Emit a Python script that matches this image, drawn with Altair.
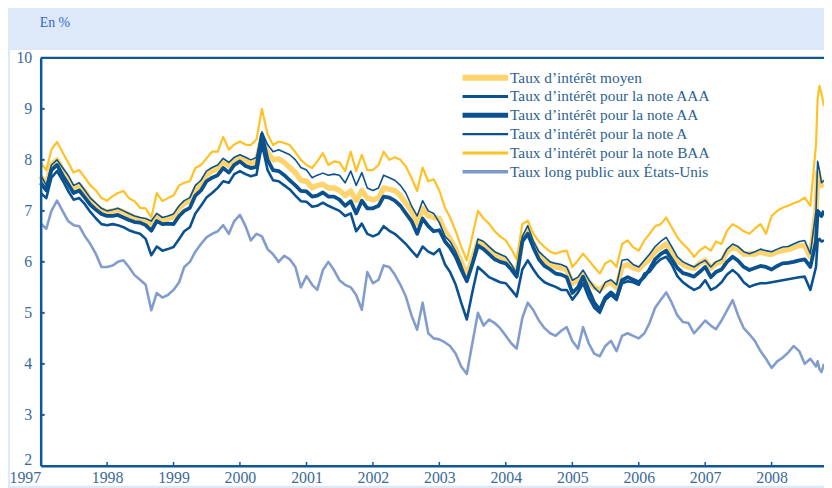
import altair as alt
import pandas as pd

# ---------------- data ----------------
months = pd.date_range("1997-01-01", "2008-09-01", freq="MS")
extra_dates = ["2008-09-10", "2008-09-20", "2008-10-01", "2008-10-15"]
dates = [d.strftime("%Y-%m-%d") for d in months] + extra_dates

treasury = [
    6.75, 6.65, 7.0, 7.2, 7.0, 6.8, 6.72, 6.7, 6.5, 6.35, 6.15, 5.9,
    5.9, 5.93, 6.0, 6.03, 5.9, 5.74, 5.65, 5.55, 5.05, 5.39, 5.3, 5.35,
    5.45, 5.6, 5.9, 6.0, 6.2, 6.35, 6.48, 6.55, 6.6, 6.72, 6.55, 6.8,
    6.92, 6.7, 6.42, 6.55, 6.5, 6.25, 6.15, 6.0, 6.12, 6.05, 5.9, 5.5,
    5.72, 5.55, 5.45, 5.84, 6.0, 5.84, 5.64, 5.55, 5.5, 5.35, 5.06, 5.8,
    5.58, 5.65, 5.93, 5.9, 5.75, 5.55, 5.32, 4.95, 4.67, 5.2, 4.6, 4.5,
    4.48, 4.42, 4.35, 4.2, 3.95, 3.8, 4.4, 5.0, 4.75, 4.87, 4.8, 4.7,
    4.55, 4.4, 4.3, 4.9, 5.2, 5.05, 4.85, 4.7, 4.6, 4.55, 4.65, 4.72,
    4.45, 4.3, 4.72, 4.4, 4.2, 4.15, 4.35, 4.45, 4.25, 4.55, 4.6, 4.55,
    4.5, 4.6, 4.8, 5.1, 5.25, 5.4, 5.2, 4.95, 4.82, 4.8, 4.6, 4.72,
    4.85, 4.75, 4.68, 4.85, 5.05, 5.25, 4.95, 4.7, 4.58, 4.45, 4.25, 4.1,
    3.92, 4.05, 4.12, 4.22, 4.35, 4.25, 4.0, 4.1, 3.95, 4.05, 3.9, 3.84, 4.0,
]

baa = [
    7.95, 7.8, 8.2, 8.35, 8.15, 7.95, 7.75, 7.8, 7.65, 7.5, 7.4, 7.25,
    7.2, 7.29, 7.35, 7.39, 7.25, 7.19, 7.06, 7.05, 6.87, 7.35, 7.19, 7.25,
    7.3, 7.5, 7.55, 7.58, 7.84, 7.9, 8.03, 8.16, 8.16, 8.45, 8.2, 8.3,
    8.36, 8.3, 8.29, 8.4, 9.0, 8.5, 8.29, 8.36, 8.33, 8.29, 8.15, 8.0,
    7.9, 7.84, 7.97, 8.13, 7.9, 7.97, 7.95, 7.78, 8.16, 7.78, 8.1, 7.8,
    7.8, 7.9, 8.16, 8.0, 8.05, 8.0, 7.87, 7.65, 7.39, 7.85, 7.58, 7.62,
    7.4, 7.06, 6.87, 6.6, 6.3, 6.03, 6.5, 7.0, 6.85, 6.75, 6.6, 6.5,
    6.42, 6.25, 6.05, 6.74, 6.81, 6.55, 6.4, 6.29, 6.2, 6.16, 6.2, 6.22,
    5.9, 6.03, 6.16, 6.03, 5.9, 5.77, 5.97, 6.03, 5.9, 6.35, 6.42, 6.29,
    6.22, 6.42, 6.55, 6.7, 6.74, 6.87, 6.68, 6.48, 6.35, 6.25, 6.1, 6.22,
    6.3, 6.22, 6.4, 6.35, 6.61, 6.74, 6.68, 6.6, 6.55, 6.65, 6.74, 6.55,
    6.9, 7.0, 7.06, 7.1, 7.15, 7.19, 7.26, 7.1, 8.3, 9.2, 9.45, 9.3, 9.05,
]

rate_a = [
    7.7, 7.5, 7.9, 8.0, 7.85, 7.7, 7.5, 7.55, 7.4, 7.25, 7.15, 7.05,
    7.0, 7.02, 7.05, 7.0, 6.95, 6.9, 6.87, 6.85, 6.8, 6.95, 6.87, 6.9,
    6.94, 7.1, 7.2, 7.26, 7.5, 7.6, 7.78, 7.85, 7.9, 8.03, 7.95, 8.05,
    8.1, 8.05, 8.0, 8.05, 8.55, 8.3, 8.16, 8.2, 8.15, 8.1, 8.0, 7.85,
    7.8, 7.65, 7.7, 7.74, 7.7, 7.72, 7.7, 7.55, 7.78, 7.5, 7.75, 7.45,
    7.4, 7.45, 7.7, 7.65, 7.6, 7.5, 7.35, 7.1, 6.9, 7.2, 7.0, 6.95,
    6.77, 6.5, 6.4, 6.2, 5.95, 5.64, 6.0, 6.45, 6.4, 6.3, 6.2, 6.15,
    6.1, 5.95, 5.77, 6.5, 6.71, 6.4, 6.2, 6.1, 6.0, 5.97, 5.95, 5.9,
    5.64, 5.7, 5.84, 5.65, 5.5, 5.39, 5.6, 5.65, 5.55, 6.03, 6.05, 5.95,
    5.9, 6.03, 6.15, 6.3, 6.4, 6.48, 6.3, 6.1, 6.0, 5.95, 5.9, 5.97,
    6.03, 5.9, 6.0, 6.05, 6.25, 6.35, 6.3, 6.2, 6.16, 6.2, 6.25, 6.22,
    6.2, 6.25, 6.29, 6.3, 6.35, 6.4, 6.42, 6.16, 7.0, 7.97, 7.8, 7.55, 7.6,
]

moyen = [
    7.68, 7.5, 7.9, 8.0, 7.8, 7.6, 7.45, 7.5, 7.38, 7.22, 7.1, 7.02,
    6.97, 7.0, 7.02, 6.98, 6.92, 6.87, 6.84, 6.8, 6.72, 6.9, 6.82, 6.85,
    6.88, 7.05, 7.15, 7.2, 7.42, 7.52, 7.7, 7.78, 7.82, 7.97, 7.88, 8.0,
    8.04, 7.98, 7.92, 7.97, 8.45, 8.15, 8.0, 8.02, 7.95, 7.85, 7.75, 7.6,
    7.58, 7.45, 7.5, 7.52, 7.45, 7.45, 7.4, 7.3, 7.39, 7.2, 7.4, 7.25,
    7.22, 7.25, 7.45, 7.42, 7.4, 7.3, 7.15, 7.0, 6.75, 7.05, 6.9, 6.87,
    6.85, 6.6, 6.45, 6.25, 6.0, 5.74, 6.05, 6.39, 6.35, 6.25, 6.15, 6.08,
    6.03, 5.9, 5.77, 6.45, 6.61, 6.35, 6.15, 6.02, 5.95, 5.9, 5.88, 5.85,
    5.58, 5.65, 5.77, 5.6, 5.5, 5.45, 5.55, 5.6, 5.5, 5.9, 5.95, 5.88,
    5.85, 5.97, 6.05, 6.2, 6.28, 6.35, 6.2, 6.02, 5.95, 5.9, 5.87, 5.97,
    6.03, 5.88, 5.97, 6.0, 6.2, 6.29, 6.25, 6.15, 6.16, 6.15, 6.2, 6.16,
    6.15, 6.2, 6.22, 6.24, 6.28, 6.32, 6.32, 6.1, 7.0, 7.75, 7.65, 7.5, 7.55,
]

rate_aa = [
    7.55, 7.4, 7.8, 7.9, 7.7, 7.52, 7.35, 7.4, 7.26, 7.12, 7.02, 6.94,
    6.9, 6.9, 6.92, 6.87, 6.82, 6.78, 6.77, 6.72, 6.61, 6.8, 6.74, 6.75,
    6.74, 6.9, 7.0, 7.06, 7.3, 7.4, 7.58, 7.65, 7.7, 7.84, 7.75, 7.9,
    7.97, 7.88, 7.84, 7.86, 8.5, 8.0, 7.8, 7.78, 7.7, 7.6, 7.5, 7.39,
    7.38, 7.28, 7.3, 7.36, 7.28, 7.28, 7.22, 7.1, 7.19, 6.95, 7.2, 7.05,
    7.05, 7.1, 7.28, 7.26, 7.2, 7.1, 6.95, 6.8, 6.55, 6.85, 6.7, 6.6,
    6.62, 6.4, 6.28, 6.1, 5.85, 5.62, 5.95, 6.32, 6.25, 6.15, 6.05, 6.0,
    5.97, 5.85, 5.71, 6.4, 6.55, 6.28, 6.05, 5.92, 5.85, 5.77, 5.75, 5.7,
    5.39, 5.5, 5.71, 5.45, 5.2, 5.06, 5.3, 5.4, 5.3, 5.64, 5.7, 5.65,
    5.6, 5.71, 5.85, 6.05, 6.15, 6.22, 6.05, 5.88, 5.78, 5.75, 5.71, 5.8,
    5.9, 5.7, 5.8, 5.85, 6.0, 6.1, 6.02, 5.9, 5.84, 5.88, 5.92, 5.9,
    5.85, 5.92, 5.97, 5.98, 6.0, 6.03, 6.05, 5.9, 6.4, 7.0, 6.95, 6.9, 7.0,
]

rate_aaa = [
    7.35, 7.25, 7.65, 7.78, 7.6, 7.39, 7.22, 7.25, 7.13, 6.98, 6.85, 6.74,
    6.72, 6.74, 6.72, 6.68, 6.62, 6.58, 6.55, 6.45, 6.13, 6.3, 6.22, 6.25,
    6.29, 6.45, 6.6, 6.68, 6.95, 7.1, 7.26, 7.35, 7.45, 7.58, 7.55, 7.72,
    7.78, 7.72, 7.68, 7.71, 8.3, 7.8, 7.6, 7.58, 7.5, 7.42, 7.3, 7.19,
    7.18, 7.08, 7.1, 7.16, 7.1, 7.05, 7.0, 6.9, 6.95, 6.6, 6.75, 6.55,
    6.5, 6.55, 6.7, 6.61, 6.55, 6.45, 6.35, 6.22, 6.1, 6.3, 6.2, 6.15,
    6.25, 5.95, 5.8, 5.55, 5.2, 4.87, 5.4, 5.9, 5.8, 5.7, 5.65, 5.6,
    5.58, 5.45, 5.32, 5.85, 6.03, 5.85, 5.7, 5.6, 5.55, 5.51, 5.45, 5.45,
    5.26, 5.4, 5.58, 5.3, 5.1, 5.0, 5.25, 5.35, 5.25, 5.58, 5.62, 5.6,
    5.55, 5.77, 5.8, 5.95, 6.05, 6.1, 5.95, 5.72, 5.6, 5.52, 5.45, 5.5,
    5.64, 5.45, 5.5, 5.6, 5.75, 5.84, 5.75, 5.6, 5.51, 5.55, 5.58, 5.58,
    5.6, 5.62, 5.64, 5.66, 5.68, 5.7, 5.71, 5.45, 5.9, 6.4, 6.45, 6.4, 6.42,
]

labels = [
    "Taux d’intérêt moyen",
    "Taux d’intérêt pour la note AAA",
    "Taux d’intérêt pour la note AA",
    "Taux d’intérêt pour la note A",
    "Taux d’intérêt pour la note BAA",
    "Taux long public aux États-Unis",
]
year_ticks = list(range(1997, 2009))
y_ticks = list(range(2, 11))

# ---------------- styles ----------------
DARK = "#0a5190"
AXIS = "#0f5797"
LABEL = "#3b6a99"
FONT = "Liberation Serif"
W, H = 791, 412

styles = {
    labels[0]: dict(values=moyen, color="#ffd46e", width=5.5, legend_w=6, opacity=1.0),
    labels[1]: dict(values=rate_aaa, color=DARK, width=2.6, legend_w=3, opacity=1.0),
    labels[2]: dict(values=rate_aa, color=DARK, width=3.8, legend_w=5, opacity=1.0),
    labels[3]: dict(values=rate_a, color=DARK, width=1.6, legend_w=2.2, opacity=1.0),
    labels[4]: dict(values=baa, color="#ffc125", width=2.2, legend_w=3, opacity=1.0),
    labels[5]: dict(values=treasury, color="#7b98c9", width=2.6, legend_w=3.5, opacity=0.95),
}
draw_order = [labels[5], labels[0], labels[4], labels[1], labels[2], labels[3]]

x_scale = alt.Scale(
    type="utc",
    domain=[alt.DateTime(year=1997, month=1, date=1, utc=True),
            alt.DateTime(year=2008, month=10, date=15, utc=True)],
)
x_axis = alt.Axis(
    values=[alt.DateTime(year=y, month=1, date=1, utc=True) for y in year_ticks],
    format="%Y", title=None, grid=False, ticks=False, labelFont=FONT,
    labelFontSize=16, labelColor=LABEL, domainColor=AXIS, domainWidth=2.5,
    labelPadding=4, labelFlush=False, zindex=1,
    labelAlign={"condition": {"test": "utcyear(datum.value) == 1997", "value": "right"},
                "value": "center"},
)
y_scale = alt.Scale(domain=[2, 10], nice=False, zero=False)
y_axis = alt.Axis(
    values=y_ticks, title=None, grid=False, ticks=False, labelFont=FONT,
    labelFontSize=16, labelColor=LABEL, domainColor=AXIS, domainWidth=2.5,
    labelPadding=9, zindex=1,
    labelOffset={"condition": {"test": "datum.value == 2", "value": -6}, "value": 0},
)
x_enc = alt.X("date:T", scale=x_scale, axis=x_axis)
y_enc = alt.Y("value:Q", scale=y_scale, axis=y_axis)

one = pd.DataFrame({"k": [0]})

layers = []
# white panel behind the chart
layers.append(
    alt.Chart(one).mark_rect(color="white").encode(
        x=alt.value(-31), x2=alt.value(W), y=alt.value(-8), y2=alt.value(H + 20)
    )
)

for name in draw_order:
    s = styles[name]
    df = pd.DataFrame({"date": dates, "value": s["values"]})
    layers.append(
        alt.Chart(df).mark_line(
            color=s["color"], strokeWidth=s["width"], opacity=s["opacity"],
            strokeJoin="round",
        ).encode(x=x_enc, y=y_enc)
    )

# top frame line
layers.append(
    alt.Chart(one).mark_rule(color=AXIS, strokeWidth=2.5).encode(
        x=alt.value(0), x2=alt.value(W), y=alt.value(0)
    )
)
# inward ticks on the y axis
ytick_df = pd.DataFrame({"value": y_ticks[1:-1]})
layers.append(
    alt.Chart(ytick_df).mark_rule(color=AXIS, strokeWidth=2).encode(
        y=y_enc, x=alt.value(0), x2=alt.value(4)
    )
)
# inward ticks on the x axis
xtick_df = pd.DataFrame({"date": [f"{y}-01-01" for y in year_ticks[1:]]})
layers.append(
    alt.Chart(xtick_df).mark_rule(color=AXIS, strokeWidth=1.5).encode(
        x=x_enc, y=alt.value(H), y2=alt.value(H - 4)
    )
)

# manual legend
for i, name in enumerate(labels):
    s = styles[name]
    ly = 20 + 19 * i
    layers.append(
        alt.Chart(one).mark_rule(color=s["color"], strokeWidth=s["legend_w"]).encode(
            x=alt.value(426), x2=alt.value(472), y=alt.value(ly)
        )
    )
    layers.append(
        alt.Chart(one).mark_text(
            text=name, align="left", baseline="middle", font=FONT,
            fontSize=15.5, color="#2d5f90",
        ).encode(x=alt.value(474), y=alt.value(ly))
    )

# unit label
layers.append(
    alt.Chart(one).mark_text(
        text="En %", align="left", baseline="middle", font=FONT,
        fontSize=14, color="#3468c8",
    ).encode(x=alt.value(-1), y=alt.value(-35))
)

chart = alt.layer(*layers).properties(
    width=W, height=H,
    padding={"left": 33, "top": 48, "right": 0, "bottom": 20},
    autosize=alt.AutoSizeParams(type="none"),
    background="#dde9f8",
).configure_view(stroke=None)

chart.save("out.html", embed_options={"renderer": "svg", "actions": False})
